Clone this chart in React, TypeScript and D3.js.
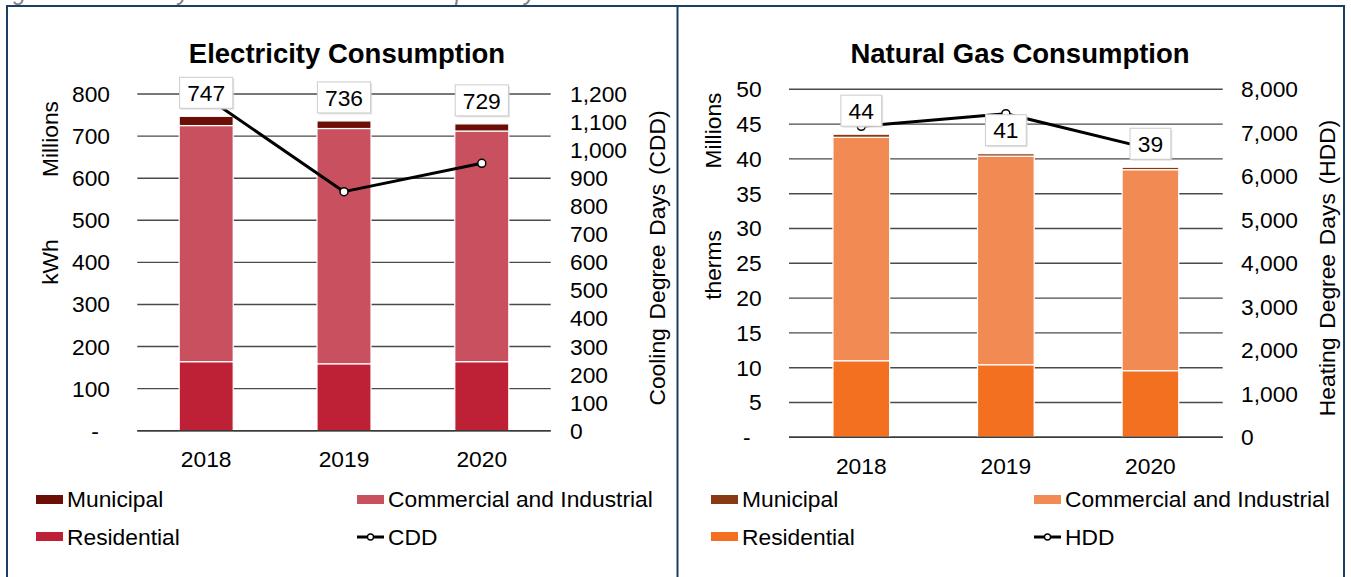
import React from "react";
import * as d3 from "d3";

// ---------- data ----------
const years = ["2018", "2019", "2020"];

const elecResidential = [164, 159, 164];
const elecCommercial = [561, 559, 548];
const elecMunicipal = [22, 18, 17];
const cdd = [1189, 852, 953];

const gasResidential = [11.0, 10.43, 9.57];
const gasCommercial = [32.1, 29.97, 28.88];
const gasMunicipal = [0.45, 0.35, 0.35];
const hdd = [7150, 7440, 6630];

const elecTicks = [0, 100, 200, 300, 400, 500, 600, 700, 800];
const cddTicks = [0, 100, 200, 300, 400, 500, 600, 700, 800, 900, 1000, 1100, 1200];
const gasTicks = [0, 5, 10, 15, 20, 25, 30, 35, 40, 45, 50];
const hddTicks = [0, 1000, 2000, 3000, 4000, 5000, 6000, 7000, 8000];

const FONT = "'Liberation Sans', Arial, Helvetica, sans-serif";
const fmtComma = d3.format(",");
const FS = 22.8;

type PanelCfg = {
  title: string;
  titleX: number;
  x0: number;
  x1: number;
  yBase: number;
  yTop: number;
  leftMax: number;
  rightMax: number;
  leftTicks: number[];
  rightTicks: number[];
  residential: number[];
  commercial: number[];
  municipal: number[];
  line: number[];
  colors: [string, string, string];
  leftLabelEnd: number;
  rightLabelStart: number;
  unitX: number;
  millionsY: number;
  unitLabel: string;
  unitY: number;
  rightTitle: string;
  rightTitleX: number;
  rightTitleY: number;
  xLabelY: number;
  legendX0: number;
  legendX1: number;
  lineName: string;
  boxH: number;
};

function Panel({ c }: { c: PanelCfg }) {
  const x = d3
    .scaleBand<string>()
    .domain(years)
    .range([c.x0, c.x1])
    .paddingInner(0.608)
    .paddingOuter(0.304);
  const yL = d3.scaleLinear().domain([0, c.leftMax]).range([c.yBase, c.yTop]);
  const yR = d3.scaleLinear().domain([0, c.rightMax]).range([c.yBase, c.yTop]);

  const stackData = years.map((yr, i) => ({
    year: yr,
    residential: c.residential[i],
    commercial: c.commercial[i],
    municipal: c.municipal[i],
  }));
  const keys = ["residential", "commercial", "municipal"];
  const stacked = d3.stack<any>().keys(keys)(stackData);

  const linePts = years.map((yr, i) => [x(yr)! + x.bandwidth() / 2, yR(c.line[i])] as [number, number]);
  const linePath = d3.line()(linePts) || "";

  const totals = years.map((_, i) => c.residential[i] + c.commercial[i] + c.municipal[i]);

  return (
    <g>
      <text
        x={c.titleX}
        y={63}
        textAnchor="middle"
        fontFamily={FONT}
        fontWeight="bold"
        fontSize={27.5}
        fill="#000"
      >
        {c.title}
      </text>

      {/* gridlines */}
      {c.leftTicks.map((t) => (
        <line
          key={"g" + t}
          x1={c.x0}
          x2={c.x1}
          y1={yL(t)}
          y2={yL(t)}
          stroke="#4a4a4a"
          strokeWidth={1.4}
        />
      ))}

      {/* left tick labels */}
      {c.leftTicks.map((t) => (
        <text
          key={"l" + t}
          x={t === 0 ? c.leftLabelEnd - 15 : c.leftLabelEnd}
          y={yL(t)}
          dy="0.35em"
          textAnchor={t === 0 ? "middle" : "end"}
          fontFamily={FONT}
          fontSize={FS}
          fill="#000"
        >
          {t === 0 ? "-" : fmtComma(t)}
        </text>
      ))}

      {/* right tick labels */}
      {c.rightTicks.map((t) => (
        <text
          key={"r" + t}
          x={c.rightLabelStart}
          y={yR(t)}
          dy="0.35em"
          textAnchor="start"
          fontFamily={FONT}
          fontSize={FS}
          fill="#000"
        >
          {fmtComma(t)}
        </text>
      ))}

      {/* bars */}
      {stacked.map((layer, li) => (
        <g key={"s" + li}>
          {layer.map((d, i) => (
            <rect
              key={i}
              x={x(years[i])}
              width={x.bandwidth()}
              y={yL(d[1])}
              height={yL(d[0]) - yL(d[1])}
              fill={c.colors[li]}
              stroke="#ffffff"
              strokeWidth={1.2}
            />
          ))}
        </g>
      ))}

      {/* baseline redraw */}
      <line x1={c.x0} x2={c.x1} y1={c.yBase} y2={c.yBase} stroke="#3a3a3a" strokeWidth={1.4} />

      {/* line */}
      <path d={linePath} fill="none" stroke="#000" strokeWidth={3} strokeLinejoin="round" />
      {linePts.map((p, i) => (
        <circle key={"m" + i} cx={p[0]} cy={p[1]} r={4} fill="#fff" stroke="#000" strokeWidth={1.5} />
      ))}

      {/* data label boxes */}
      {years.map((yr, i) => {
        const label = String(Math.round(totals[i]));
        const w = label.length * 12.4 + 16;
        const cx = x(yr)! + x.bandwidth() / 2;
        const cy = yL(totals[i]) - 23.5;
        return (
          <g key={"b" + i}>
            <rect
              x={cx - w / 2 + 1.5}
              y={cy - c.boxH / 2 + 1.5}
              width={w}
              height={c.boxH}
              fill="#d0d0d0"
              opacity={0.6}
            />
            <rect
              x={cx - w / 2}
              y={cy - c.boxH / 2}
              width={w}
              height={c.boxH}
              fill="#fff"
              stroke="#cccccc"
              strokeWidth={1}
            />
            <text
              x={cx}
              y={cy}
              dy="0.36em"
              textAnchor="middle"
              fontFamily={FONT}
              fontSize={FS}
              fill="#000"
            >
              {label}
            </text>
          </g>
        );
      })}

      {/* x labels */}
      {years.map((yr) => (
        <text
          key={"x" + yr}
          x={x(yr)! + x.bandwidth() / 2}
          y={c.xLabelY}
          textAnchor="middle"
          fontFamily={FONT}
          fontSize={FS}
          fill="#000"
        >
          {yr}
        </text>
      ))}

      {/* axis titles */}
      <text
        transform={`translate(${c.unitX},${c.millionsY}) rotate(-90)`}
        dy="0.35em"
        textAnchor="middle"
        fontFamily={FONT}
        fontSize={FS}
        fill="#000"
      >
        Millions
      </text>
      <text
        transform={`translate(${c.unitX},${c.unitY}) rotate(-90)`}
        dy="0.35em"
        textAnchor="middle"
        fontFamily={FONT}
        fontSize={FS}
        fill="#000"
      >
        {c.unitLabel}
      </text>
      <text
        transform={`translate(${c.rightTitleX},${c.rightTitleY}) rotate(-90)`}
        dy="0.35em"
        textAnchor="middle"
        fontFamily={FONT}
        fontSize={FS}
        wordSpacing={2.5}
        fill="#000"
      >
        {c.rightTitle}
      </text>

      {/* legend */}
      <g fontFamily={FONT} fontSize={FS} fill="#000">
        <rect x={c.legendX0} y={495} width={27} height={9} fill={c.colors[2]} />
        <text x={c.legendX0 + 31} y={499} dy="0.35em">Municipal</text>
        <rect x={c.legendX1} y={495} width={27} height={9} fill={c.colors[1]} />
        <text x={c.legendX1 + 31} y={499} dy="0.35em">Commercial and Industrial</text>
        <rect x={c.legendX0} y={532} width={27} height={9} fill={c.colors[0]} />
        <text x={c.legendX0 + 31} y={537} dy="0.35em">Residential</text>
        <line x1={c.legendX1} x2={c.legendX1 + 27} y1={537} y2={537} stroke="#000" strokeWidth={3} />
        <circle cx={c.legendX1 + 13.5} cy={537} r={3} fill="#fff" stroke="#000" strokeWidth={1.3} />
        <text x={c.legendX1 + 31} y={537} dy="0.35em">{c.lineName}</text>
      </g>
    </g>
  );
}

const elecCfg: PanelCfg = {
  title: "Electricity Consumption",
  titleX: 347,
  x0: 137.3,
  x1: 550.7,
  yBase: 430.7,
  yTop: 94,
  leftMax: 800,
  rightMax: 1200,
  leftTicks: elecTicks,
  rightTicks: cddTicks,
  residential: elecResidential,
  commercial: elecCommercial,
  municipal: elecMunicipal,
  line: cdd,
  colors: ["#be2036", "#c9505e", "#6b0e05"],
  leftLabelEnd: 110,
  rightLabelStart: 570,
  unitX: 50,
  millionsY: 139,
  unitLabel: "kWh",
  unitY: 262,
  rightTitle: "Cooling Degree Days (CDD)",
  rightTitleX: 657,
  rightTitleY: 258,
  xLabelY: 467,
  legendX0: 36,
  legendX1: 357,
  lineName: "CDD",
  boxH: 31,
};

const gasCfg: PanelCfg = {
  title: "Natural Gas Consumption",
  titleX: 1020,
  x0: 789,
  x1: 1222.7,
  yBase: 437.3,
  yTop: 89.3,
  leftMax: 50,
  rightMax: 8000,
  leftTicks: gasTicks,
  rightTicks: hddTicks,
  residential: gasResidential,
  commercial: gasCommercial,
  municipal: gasMunicipal,
  line: hdd,
  colors: ["#f37021", "#f28a53", "#8a3a12"],
  leftLabelEnd: 761.7,
  rightLabelStart: 1241,
  unitX: 713,
  millionsY: 130.5,
  unitLabel: "therms",
  unitY: 265,
  rightTitle: "Heating Degree Days (HDD)",
  rightTitleX: 1327,
  rightTitleY: 268,
  xLabelY: 473.5,
  legendX0: 711,
  legendX1: 1034,
  lineName: "HDD",
  boxH: 31,
};

export default function App() {
  const border = "#1a3f63";
  return (
    <svg
      width={1351}
      height={577}
      viewBox="0 0 1351 577"
      style={{ position: "absolute", left: 0, top: 0, background: "#fff" }}
    >
      <rect x={0} y={0} width={1351} height={577} fill="#fff" />
      <text
        x={-6}
        y={0}
        fontFamily={FONT}
        fontStyle="italic"
        fontSize={23}
        fill="#808080"
      >
        Figure 1: Electricity and Natural Gas Consumption by Sector 2018-2020
      </text>
      {/* panel borders */}
      <line x1={6} x2={1345} y1={6} y2={6} stroke={border} strokeWidth={2} />
      <line x1={7} x2={7} y1={5} y2={577} stroke={border} strokeWidth={2} />
      <line x1={677.5} x2={677.5} y1={5} y2={577} stroke={border} strokeWidth={2} />
      <line x1={1344} x2={1344} y1={5} y2={577} stroke={border} strokeWidth={2} />

      <Panel c={elecCfg} />
      <Panel c={gasCfg} />
    </svg>
  );
}
